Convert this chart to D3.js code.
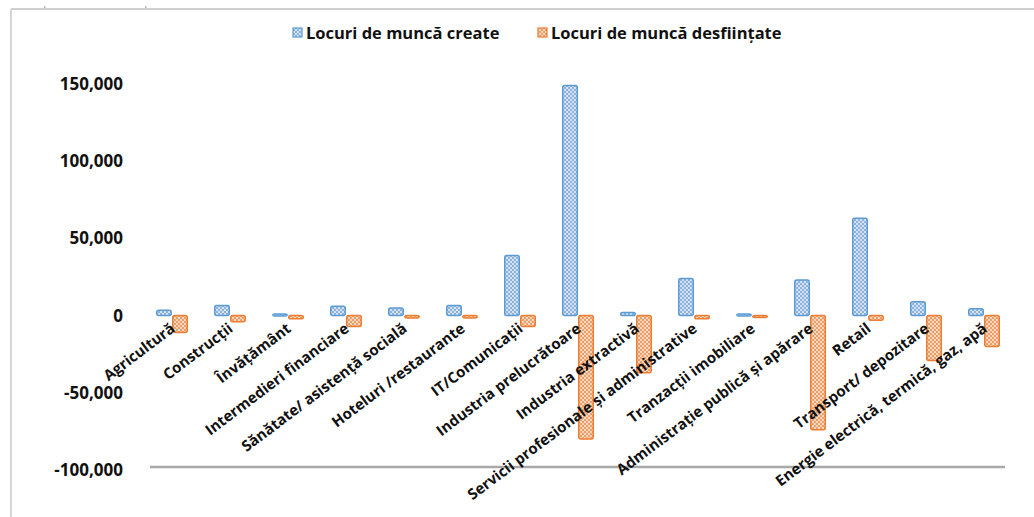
<!DOCTYPE html>
<meta charset="utf-8">
<style>
body { margin: 0; background: #fff; }
text { font-family: 'Open Sans', sans-serif; fill: #111; }
.axis .domain, .axis line { display: none; }
.axis text { font-size: 17px; font-weight: bold; }
.cat-label { font-size: 15px; font-weight: bold; }
.legend text { font-size: 16.5px; font-weight: bold; }
</style>
<svg width="1034" height="517"></svg>
<script src="https://d3js.org/d3.v7.min.js"></script>
<script>
var categories = ["Agricultură", "Construcții", "Învățământ", "Intermedieri financiare",
  "Sănătate/ asistență socială", "Hoteluri /restaurante", "IT/Comunicații",
  "Industria prelucrătoare", "Industria extractivă", "Servicii profesionale și administrative",
  "Tranzacții imobiliare", "Administrație publică și apărare", "Retail",
  "Transport/ depozitare", "Energie electrică, termică, gaz, apă"];

var created = [3500, 6500, 1000, 6000, 5000, 6500, 39000, 149000, 2000, 24000, 1000, 23000, 63000, 9000, 4500];
var destroyed = [-11000, -4000, -2000, -7000, -1500, -1500, -7000, -80000, -37000, -2000, -1000, -74000, -3000, -29000, -20000];

var seriesNames = ["Locuri de muncă create", "Locuri de muncă desființate"];
var yTicks = [-100000, -50000, 0, 50000, 100000, 150000];

var svg = d3.select("svg");

// chart frame (cropped border)
svg.append("line").attr("x1", 11).attr("x2", 1034).attr("y1", 9).attr("y2", 9)
    .attr("stroke", "#cfcfcf").attr("stroke-width", 2);
svg.append("line").attr("x1", 11).attr("x2", 11).attr("y1", 9).attr("y2", 517)
    .attr("stroke", "#d6d6d6").attr("stroke-width", 2);
svg.append("text").attr("x", 44).attr("y", 7).style("font-size", "7px").text(",");
svg.append("text").attr("x", 145).attr("y", 7).style("font-size", "7px").text(",");

var defs = svg.append("defs");
function hatch(id, bg, fg) {
  var p = defs.append("pattern").attr("id", id).attr("patternUnits", "userSpaceOnUse")
      .attr("width", 4).attr("height", 4);
  p.append("rect").attr("width", 4).attr("height", 4).attr("fill", bg);
  p.append("path").attr("d", "M0,0L4,4M4,0L0,4").attr("stroke", fg).attr("stroke-width", 0.9);
}
hatch("hBlue", "#d3e3f3", "#86acd6");
hatch("hOrange", "#f9d6bc", "#e69863");

var blur = defs.append("filter").attr("id", "soft").attr("x", "-5%").attr("y", "-200%")
    .attr("width", "110%").attr("height", "500%");
blur.append("feGaussianBlur").attr("stdDeviation", 1.5);

var x0 = d3.scaleBand().domain(categories).range([143, 1013]);
var x1 = d3.scaleBand().domain(seriesNames).range([x0.bandwidth() / 2 - 16, x0.bandwidth() / 2 + 16]);
var y = d3.scaleLinear().domain([-100000, 150000]).range([470, 84]);

var fills = ["url(#hBlue)", "url(#hOrange)"];
var strokes = ["#5b9bd5", "#ed7d31"];

// bottom axis line
svg.append("line").attr("x1", 150).attr("x2", 1005)
    .attr("y1", y(-100000) - 2).attr("y2", y(-100000) - 2)
    .attr("stroke", "#bdbdbd").attr("stroke-width", 5).attr("filter", "url(#soft)");
svg.append("line").attr("x1", 150).attr("x2", 1005)
    .attr("y1", y(-100000) - 3).attr("y2", y(-100000) - 3)
    .attr("stroke", "#a9a9a9").attr("stroke-width", 2.5);

var fmt = d3.format(",");
svg.append("g").attr("class", "axis")
    .attr("transform", "translate(123,0)")
    .call(d3.axisLeft(y).tickValues(yTicks).tickSize(0).tickPadding(0)
      .tickFormat(function(d) { return fmt(d).replace("\u2212", "-"); }));

var rows = categories.map(function(c, i) { return {cat: c, values: [created[i], destroyed[i]]}; });

var g = svg.append("g").selectAll("g").data(rows).enter().append("g")
    .attr("transform", function(d) { return "translate(" + x0(d.cat) + ",0)"; });

g.selectAll("rect").data(function(d) { return d.values; }).enter().append("rect")
    .attr("x", function(d, i) { return x1(seriesNames[i]) + 0.75; })
    .attr("width", x1.bandwidth() - 1.5)
    .attr("y", function(d) { return y(Math.max(0, d)); })
    .attr("height", function(d) { return Math.max(2, Math.abs(y(d) - y(0))); })
    .attr("rx", 2)
    .attr("fill", function(d, i) { return fills[i]; })
    .attr("stroke", function(d, i) { return strokes[i]; })
    .attr("stroke-width", 1.5);

// category labels
svg.append("g").selectAll("text").data(categories).enter().append("text")
    .attr("class", "cat-label")
    .attr("text-anchor", "end")
    .attr("transform", function(d) {
      return "translate(" + (x0(d) + x0.bandwidth() / 2 + 4) + "," + (y(0) + 15) + ") rotate(-37)";
    })
    .text(function(d) { return d; });

// legend
var legend = svg.append("g").attr("class", "legend");
var lx = [293, 538];
seriesNames.forEach(function(s, i) {
  legend.append("rect").attr("x", lx[i]).attr("y", 28).attr("width", 9).attr("height", 9)
      .attr("fill", fills[i]).attr("stroke", strokes[i]).attr("stroke-width", 1.2);
  legend.append("text").attr("x", lx[i] + 13).attr("y", 38.5).text(s);
});
</script>
